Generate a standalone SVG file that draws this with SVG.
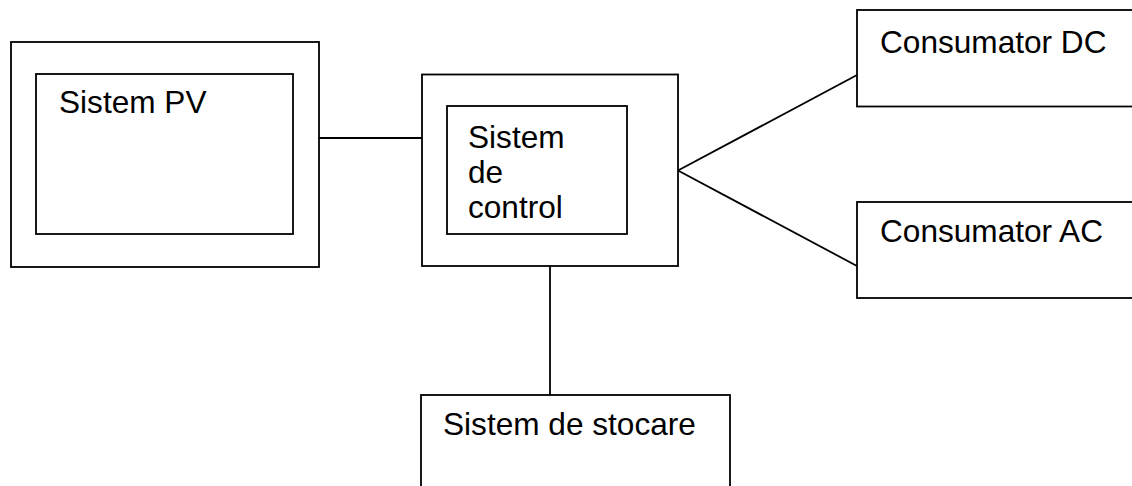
<svg xmlns="http://www.w3.org/2000/svg" width="1132" height="486" viewBox="0 0 1132 486">
<style>
.box{fill:#fff;stroke:#000;stroke-width:1.8}
.lbl{font-family:"Liberation Sans",Arial,sans-serif;font-size:31.6px;fill:#000}
.con{stroke:#000;stroke-width:1.8;fill:none}
</style>
<rect width="1132" height="486" fill="#fff"/>
<g id="connectors">
<line class="con" x1="319" y1="138" x2="422" y2="138"/>
<line class="con" x1="678" y1="170.5" x2="857" y2="75"/>
<line class="con" x1="678" y1="170.5" x2="857" y2="266"/>
<line class="con" x1="550" y1="266" x2="550" y2="395"/>
</g>
<g id="pv">
<rect class="box" x="11" y="42" width="308" height="225"/>
<rect class="box" x="36" y="74" width="257" height="160"/>
<text class="lbl" x="59" y="113">Sistem PV</text>
</g>
<g id="control">
<rect class="box" x="422" y="74.5" width="256" height="191.5"/>
<rect class="box" x="447" y="106" width="180" height="128"/>
<text class="lbl" x="468" y="148">Sistem</text>
<text class="lbl" x="468" y="183">de</text>
<text class="lbl" x="468" y="218">control</text>
</g>
<g id="dc">
<rect class="box" x="857" y="10" width="290" height="96.5"/>
<text class="lbl" x="880" y="52.5">Consumator DC</text>
</g>
<g id="ac">
<rect class="box" x="857" y="202" width="290" height="96"/>
<text class="lbl" x="880" y="242">Consumator AC</text>
</g>
<g id="storage">
<rect class="box" x="421" y="395" width="309" height="110"/>
<text class="lbl" x="443" y="435">Sistem de stocare</text>
</g>
</svg>
